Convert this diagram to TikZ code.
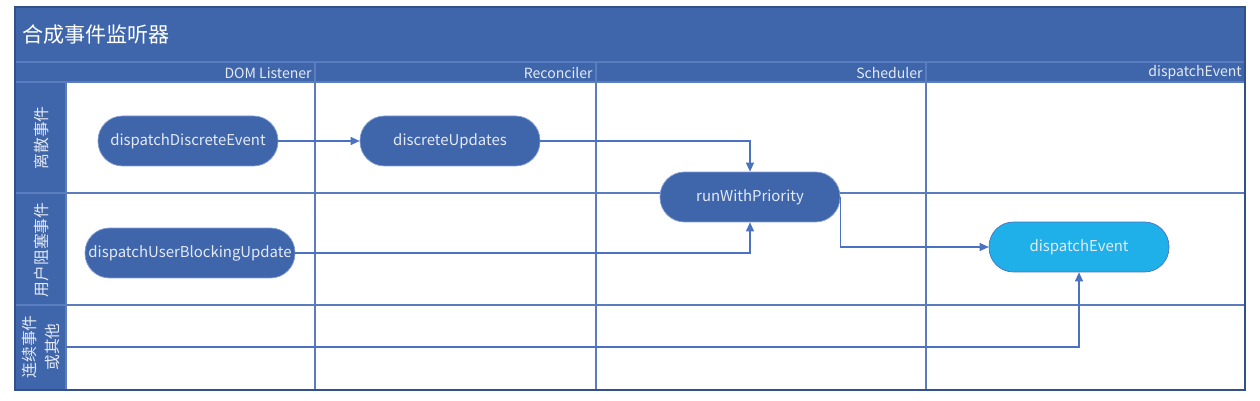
\documentclass[tikz,border=0pt]{standalone}
\usepackage{fontspec}
\setmainfont{Noto Sans CJK SC}
\usetikzlibrary{arrows.meta}
\definecolor{lanebg}{HTML}{3F65AB}
\definecolor{laneline}{HTML}{5B7DBF}
\definecolor{flowline}{HTML}{4A72C0}
\definecolor{eventfill}{HTML}{1FB0EA}
\definecolor{lanetext}{HTML}{E4EAF4}
\tikzset{
  stepnode/.style={draw=flowline!70!white,fill=lanebg,text=lanetext,rounded corners=0.49cm,
    minimum width=3.6cm,minimum height=1cm,font=\fontsize{8.5}{10}\selectfont},
  flow/.style={draw=flowline,line width=0.6pt,-{Triangle[length=1.8mm,width=1.6mm]}},
  lane/.style={draw=laneline,line width=0.6pt},
  lanehead/.style={text=lanetext,font=\fontsize{8}{9}\selectfont,inner sep=0pt,anchor=east},
  rowhead/.style={rotate=90,text=lanetext,font=\fontsize{9}{13.5}\selectfont,align=center}
}
\begin{document}
\begin{tikzpicture}[x=0.02cm,y=-0.02cm]
\useasboundingbox (0,0) rectangle (1260,401);
\fill[white] (0,0) rectangle (1260,401);
\fill[lanebg] (15,7) rectangle (1245,82);
\fill[lanebg] (15,82) rectangle (66,390);
\draw[lane] (15,62) -- (1245,62);
\draw[lane] (15,82) -- (1245,82);
\draw[lane] (15,193) -- (1245,193);
\draw[lane] (15,305) -- (1245,305);
\draw[lane] (66,82) -- (66,390);
\foreach \xx in {315,596,926}
  \draw[lane] (\xx,62) -- (\xx,390);
\draw[draw=lanebg!80!black,line width=0.8pt] (15,7) rectangle (1245,390);
\node[text=white,anchor=west,inner sep=0pt,font=\fontsize{12}{14}\selectfont] (title) at (22,35) {合成事件监听器};
\node[lanehead] (hdom) at (312,73) {DOM Listener};
\node[lanehead] (hrec) at (593,73) {Reconciler};
\node[lanehead] (hsch) at (923,73) {Scheduler};
\node[lanehead] (hdis) at (1242,73) {dispatchEvent};
\node[rowhead] (rdisc) at (41,138) {离散事件};
\node[rowhead] (rblock) at (41,250) {用户阻塞事件};
\node[rowhead] (rcont) at (41,347) {连续事件\\或其他};
\node[stepnode] (discevent) at (188,141) {dispatchDiscreteEvent};
\node[stepnode] (discupd) at (450,141) {discreteUpdates};
\node[stepnode] (run) at (750,197) {runWithPriority};
\node[stepnode,minimum width=4.2cm,inner xsep=1pt] (blockupd) at (190,253) {dispatchUserBlockingUpdate};
\node[stepnode,fill=eventfill,draw=flowline] (event) at (1079,247) {dispatchEvent};
\coordinate (cont) at (66,347);
\draw[flow] (discevent) -- (discupd);
\draw[flow] (discupd.east) -| (run.north);
\draw[flow] (blockupd.east) -| (run.south);
\draw[flow] (run.east) |- (event.west);
\draw[flow] (cont) -| (event.south);
\end{tikzpicture}
\end{document}
